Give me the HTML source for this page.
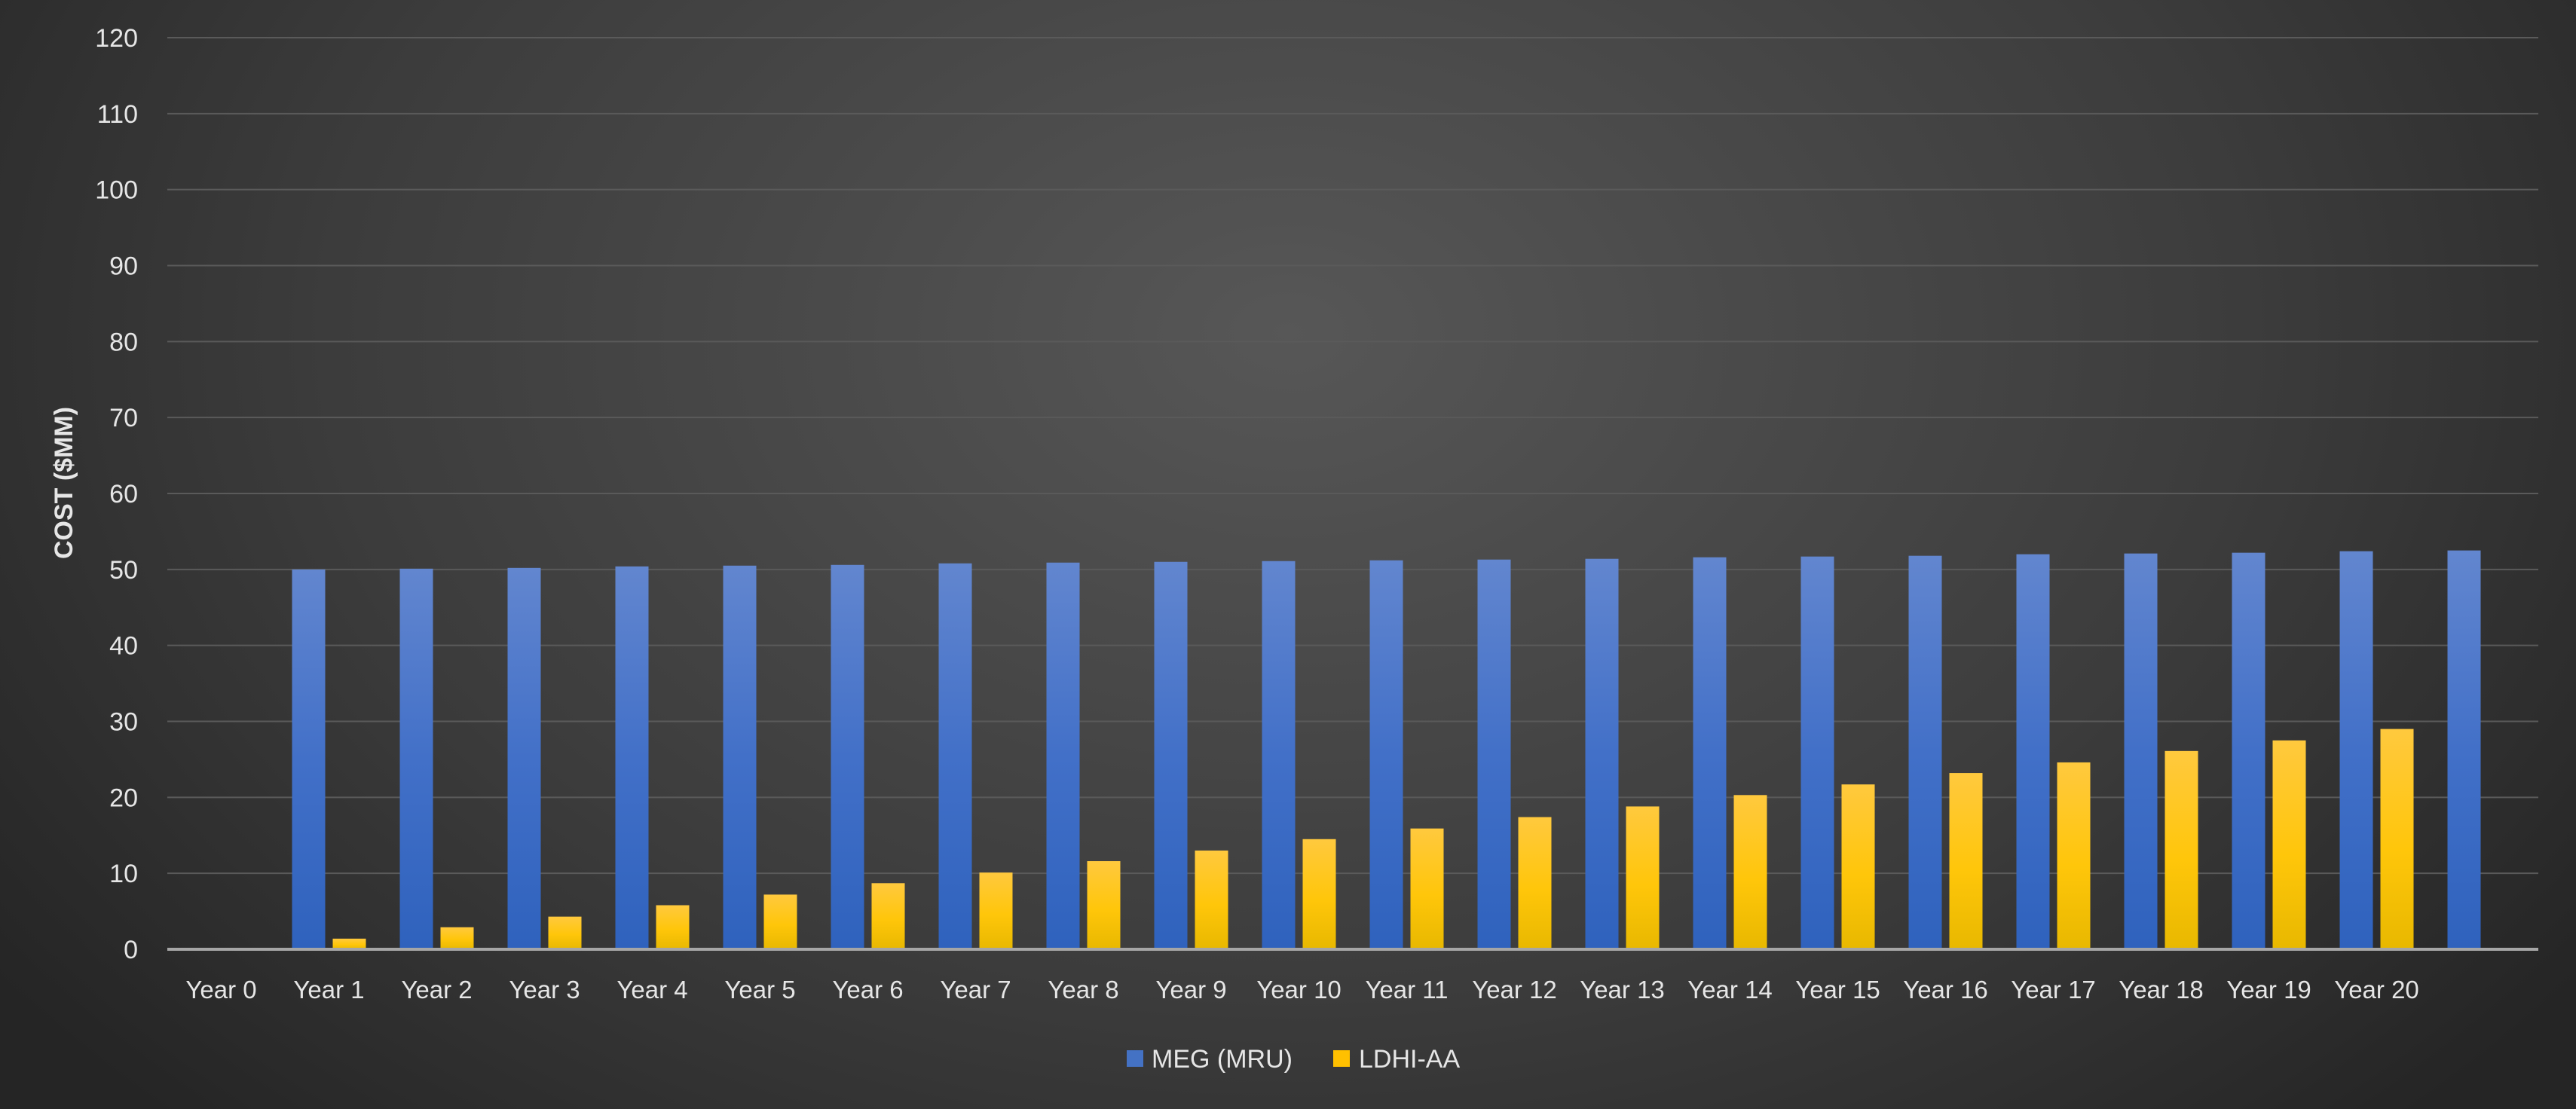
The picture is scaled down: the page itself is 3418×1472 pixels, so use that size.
<!DOCTYPE html>
<html><head><meta charset="utf-8"><style>
html,body{margin:0;padding:0;}
body{width:3418px;height:1472px;overflow:hidden;background:#2a2a2a;}
svg{display:block;}
text{font-family:"Liberation Sans",sans-serif;fill:#e6e6e6;}
</style></head><body>
<svg id="chart" width="3418" height="1472" viewBox="0 0 3418 1472" xmlns="http://www.w3.org/2000/svg">
<defs>
<radialGradient id="bg" cx="0.5" cy="0.3" r="0.62" gradientTransform="translate(0.5 0.3) scale(1 1.6) translate(-0.5 -0.3)">
<stop offset="0" stop-color="#575757"/><stop offset="0.6" stop-color="#3c3c3c"/><stop offset="1" stop-color="#252525"/>
</radialGradient>
<linearGradient id="blueG" x1="0" y1="0" x2="0" y2="1"><stop offset="0" stop-color="#6286cf"/><stop offset="0.5" stop-color="#4270c8"/><stop offset="1" stop-color="#2f62bd"/></linearGradient>
<linearGradient id="yelG" x1="0" y1="0" x2="0" y2="1"><stop offset="0" stop-color="#ffc93e"/><stop offset="0.55" stop-color="#ffc60a"/><stop offset="1" stop-color="#e8b800"/></linearGradient>
</defs>
<rect x="0" y="0" width="3418" height="1472" fill="url(#bg)"/>
<g id="grid"></g>
<g id="bars"></g>
<line x1="222" y1="1260" x2="3368" y2="1260" stroke="#a6a6a6" stroke-width="4"/>
<g id="labels"></g>
<text transform="translate(96 641) rotate(-90)" text-anchor="middle" font-size="34" font-weight="bold">COST ($MM)</text>
<g>
<rect x="1495" y="1394" width="22" height="22" fill="#4472c4"/>
<text x="1528" y="1417" font-size="34">MEG (MRU)</text>
<rect x="1769" y="1394" width="22" height="22" fill="#ffc000"/>
<text x="1803" y="1417" font-size="34">LDHI-AA</text>
</g>
</svg>
<script>
const categories = ["Year 0","Year 1","Year 2","Year 3","Year 4","Year 5","Year 6","Year 7","Year 8","Year 9","Year 10","Year 11","Year 12","Year 13","Year 14","Year 15","Year 16","Year 17","Year 18","Year 19","Year 20",""];
const megValues = [0,50.0,50.1,50.2,50.4,50.5,50.6,50.8,50.9,51.0,51.1,51.2,51.3,51.4,51.6,51.7,51.8,52.0,52.1,52.2,52.4,52.5];
const ldhiValues = [0,1.4,2.9,4.3,5.8,7.2,8.7,10.1,11.6,13.0,14.5,15.9,17.4,18.8,20.3,21.7,23.2,24.6,26.1,27.5,29.0,0];
const yTicks = [0,10,20,30,40,50,60,70,80,90,100,110,120];

const NS = "http://www.w3.org/2000/svg";
const plotL = 222, plotR = 3368, y0 = 1260, yTop = 50, yMax = 120;
const bandW = (plotR - plotL) / categories.length;
function xCenter(i){ return plotL + bandW * (i + 0.5); }
function yScale(v){ return y0 - (v / yMax) * (y0 - yTop); }
const barW = 44, gap = 10;

const grid = document.getElementById('grid');
const labels = document.getElementById('labels');
const bars = document.getElementById('bars');

yTicks.forEach(t => {
  const y = yScale(t);
  if (t > 0) {
    const l = document.createElementNS(NS, 'line');
    
    
    l.setAttribute('x1', plotL); l.setAttribute('x2', plotR);
    l.setAttribute('y1', y); l.setAttribute('y2', y);
    l.setAttribute('stroke', '#5a5a5a'); l.setAttribute('stroke-width', '2');
    grid.appendChild(l);
  }
  const tx = document.createElementNS(NS, 'text');
  
  
  tx.setAttribute('x', 183); tx.setAttribute('y', y + 12);
  tx.setAttribute('text-anchor', 'end'); tx.setAttribute('font-size', '34');
  tx.textContent = t;
  labels.appendChild(tx);
});

categories.forEach((c, i) => {
  const cx = xCenter(i);
  if (c) {
    const tx = document.createElementNS(NS, 'text');
    
    
    tx.setAttribute('x', cx); tx.setAttribute('y', 1325);
    tx.setAttribute('text-anchor', 'middle'); tx.setAttribute('font-size', '33');
    tx.textContent = c;
    labels.appendChild(tx);
  }
  if (megValues[i] > 0) {
    const r = document.createElementNS(NS, 'rect');
    
    
    r.setAttribute('x', cx - gap / 2 - barW);
    r.setAttribute('y', yScale(megValues[i]));
    r.setAttribute('width', barW);
    r.setAttribute('height', y0 - yScale(megValues[i]));
    r.setAttribute('fill', 'url(#blueG)');
    bars.appendChild(r);
  }
  if (ldhiValues[i] > 0) {
    const r = document.createElementNS(NS, 'rect');
    
    
    r.setAttribute('x', cx + gap / 2);
    r.setAttribute('y', yScale(ldhiValues[i]));
    r.setAttribute('width', barW);
    r.setAttribute('height', y0 - yScale(ldhiValues[i]));
    r.setAttribute('fill', 'url(#yelG)');
    bars.appendChild(r);
  }
});
</script>
</body></html>
